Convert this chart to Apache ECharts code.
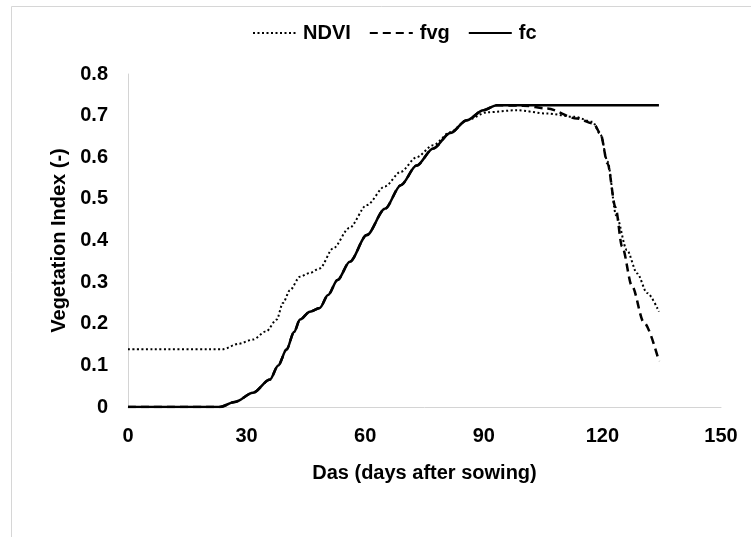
<!DOCTYPE html>
<html>
<head>
<meta charset="utf-8">
<script src="https://cdn.jsdelivr.net/npm/echarts@6/dist/echarts.min.js"></script>
<style>
  html, body { margin: 0; padding: 0; background: #fff; }
  #chart { width: 751px; height: 537px; }
</style>
</head>
<body>
<div id="chart"></div>
<script>
// values (x = days after sowing)
const ndviDays = [0, 24, 28, 31.6, 35, 37.6, 39.2, 41, 43.5, 46, 48.5, 51.9, 56, 60.4, 65, 69, 73, 77.2, 81.5, 85.7, 90.8, 98.4, 106, 113, 117.5, 119.5, 121.3, 123.5, 126.2, 128.8, 131.3, 134.3];
const ndviValues = [0.139, 0.139, 0.152, 0.162, 0.182, 0.21, 0.25, 0.281, 0.313, 0.322, 0.333, 0.381, 0.43, 0.485, 0.53, 0.565, 0.6, 0.629, 0.66, 0.689, 0.708, 0.713, 0.705, 0.697, 0.685, 0.655, 0.59, 0.46, 0.377, 0.321, 0.274, 0.229];

const fvgDays = [0, 23.2, 27, 31.6, 35.9, 38, 40.1, 42, 43.5, 46, 48.5, 50.6, 53, 56.1, 60.4, 65, 69, 73, 77.2, 81.5, 85.7, 89.9, 93.3, 100, 106, 113.6, 117.8, 119.5, 121.3, 123.3, 125, 127.5, 130.5, 134.3];
const fvgValues = [0, 0, 0.012, 0.034, 0.066, 0.1, 0.138, 0.18, 0.21, 0.229, 0.238, 0.269, 0.305, 0.349, 0.413, 0.476, 0.533, 0.58, 0.621, 0.658, 0.689, 0.713, 0.725, 0.724, 0.717, 0.693, 0.681, 0.657, 0.585, 0.48, 0.385, 0.29, 0.203, 0.11];

const fcDays = [0, 23.2, 27, 31.6, 35.9, 38, 40.1, 42, 43.5, 46, 48.5, 50.6, 53, 56.1, 60.4, 65, 69, 73, 77.2, 81.5, 85.7, 89.9, 93.3, 100, 134.3];
const fcValues = [0, 0, 0.012, 0.034, 0.066, 0.1, 0.138, 0.18, 0.21, 0.229, 0.238, 0.269, 0.305, 0.349, 0.413, 0.476, 0.533, 0.58, 0.621, 0.658, 0.689, 0.713, 0.725, 0.725, 0.725];

const xTicks = [0, 30, 60, 90, 120, 150];
const yTicks = [0, 0.1, 0.2, 0.3, 0.4, 0.5, 0.6, 0.7, 0.8];

const font = "'Liberation Sans Narrow', 'Liberation Sans', sans-serif";

function pairs(xs, ys) {
  return xs.map((x, i) => [x, ys[i]]);
}

function lineSerie(name, xs, ys, type, width) {
  return {
    name: name,
    type: 'line',
    data: pairs(xs, ys),
    symbol: 'none',
    smooth: 0.3,
    smoothMonotone: 'x',
    lineStyle: { color: '#000', width: width, type: type },
    itemStyle: { color: '#000' },
    z: name == 'fc' ? 3 : (name == 'fvg' ? 4 : 5)
  };
}

let chart = echarts.init(document.getElementById('chart'));
chart.setOption({
  animation: false,
  backgroundColor: '#fff',
  graphic: [{
    type: 'rect',
    left: 9, top: 4,
    shape: { width: 800, height: 600 },
    style: { fill: 'none', stroke: '#d6d6d6', lineWidth: 1 }
  }],
  legend: {
    left: 247,
    top: 18,
    itemWidth: 43,
    itemHeight: 14,
    itemGap: 18,
    data: ['NDVI', 'fvg', 'fc'],
    itemStyle: { opacity: 0 },
    textStyle: { fontFamily: font, fontSize: 20, fontWeight: 'bold', color: '#000', padding: [0, 0, 0, 2] }
  },
  grid: { left: 128, right: 30, top: 74, bottom: 130 },
  xAxis: {
    type: 'value',
    min: xTicks[0],
    max: xTicks[xTicks.length - 1],
    interval: 30,
    name: 'Das (days after sowing)',
    nameLocation: 'middle',
    nameGap: 56,
    nameTextStyle: { fontFamily: font, fontSize: 20, fontWeight: 'bold', color: '#000' },
    axisLine: { show: true, lineStyle: { color: '#d4d4d4', width: 1 } },
    axisTick: { show: false },
    splitLine: { show: false },
    axisLabel: { margin: 19, fontFamily: font, fontSize: 20, fontWeight: 'bold', color: '#000' }
  },
  yAxis: {
    type: 'value',
    min: yTicks[0],
    max: yTicks[yTicks.length - 1],
    interval: 0.1,
    name: 'Vegetation Index (-)',
    nameLocation: 'middle',
    nameGap: 54,
    nameRotate: 90,
    nameTextStyle: { fontFamily: font, fontSize: 20, fontWeight: 'bold', color: '#000' },
    axisLine: { show: true, lineStyle: { color: '#d4d4d4', width: 1 } },
    axisTick: { show: false },
    splitLine: { show: false },
    axisLabel: {
      margin: 20, fontFamily: font, fontSize: 20, fontWeight: 'bold', color: '#000',
      formatter: function (v) { return v === 0 ? '0' : v.toFixed(1); }
    }
  },
  series: [
    lineSerie('NDVI', ndviDays, ndviValues, [2, 2.5], 2),
    lineSerie('fvg', fvgDays, fvgValues, [8, 5], 2.5),
    lineSerie('fc', fcDays, fcValues, 'solid', 2.5)
  ]
});
</script>
</body>
</html>
